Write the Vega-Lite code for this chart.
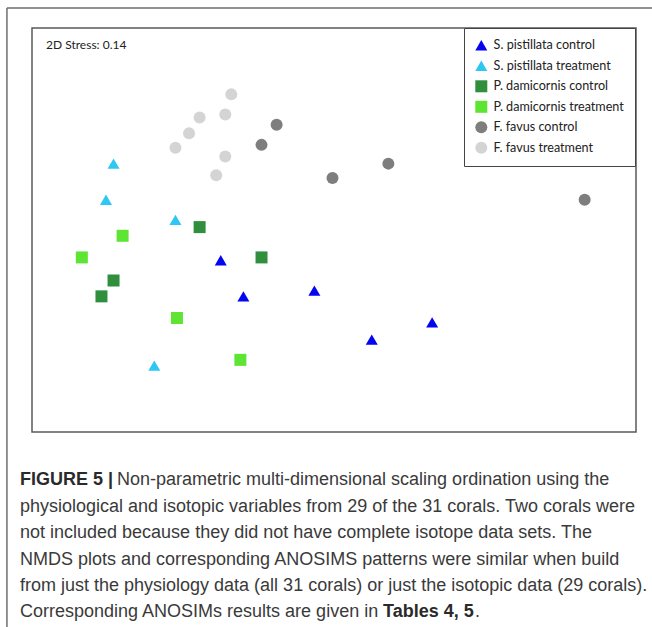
{
  "$schema": "https://vega.github.io/schema/vega-lite/v6.json",
  "width": 604,
  "height": 404,
  "autosize": {"type": "none"},
  "padding": {"left": 32, "top": 28, "right": 16, "bottom": 195},
  "background": "white",
  "config": {"view": {"stroke": "#5a5a5a", "strokeWidth": 1.5}, "font": "Lato"},
  "datasets": {
    "points": [
      {"group": "S. pistillata control", "x": -0.75, "y": -0.21},
      {"group": "S. pistillata control", "x": -0.60, "y": -0.46},
      {"group": "S. pistillata control", "x": -0.13, "y": -0.42},
      {"group": "S. pistillata control", "x": 0.65, "y": -0.64},
      {"group": "S. pistillata control", "x": 0.25, "y": -0.76},
      {"group": "S. pistillata treatment", "x": -1.46, "y": 0.46},
      {"group": "S. pistillata treatment", "x": -1.51, "y": 0.21},
      {"group": "S. pistillata treatment", "x": -1.05, "y": 0.07},
      {"group": "S. pistillata treatment", "x": -1.19, "y": -0.94},
      {"group": "P. damicornis control", "x": -0.89, "y": 0.02},
      {"group": "P. damicornis control", "x": -0.48, "y": -0.19},
      {"group": "P. damicornis control", "x": -1.46, "y": -0.35},
      {"group": "P. damicornis control", "x": -1.54, "y": -0.46},
      {"group": "P. damicornis treatment", "x": -1.40, "y": -0.04},
      {"group": "P. damicornis treatment", "x": -1.67, "y": -0.19},
      {"group": "P. damicornis treatment", "x": -1.04, "y": -0.61},
      {"group": "P. damicornis treatment", "x": -0.62, "y": -0.90},
      {"group": "F. favus control", "x": -0.38, "y": 0.73},
      {"group": "F. favus control", "x": -0.48, "y": 0.59},
      {"group": "F. favus control", "x": 0.36, "y": 0.46},
      {"group": "F. favus control", "x": -0.01, "y": 0.36},
      {"group": "F. favus control", "x": 1.66, "y": 0.21},
      {"group": "F. favus treatment", "x": -0.68, "y": 0.94},
      {"group": "F. favus treatment", "x": -0.89, "y": 0.78},
      {"group": "F. favus treatment", "x": -0.72, "y": 0.80},
      {"group": "F. favus treatment", "x": -0.96, "y": 0.67},
      {"group": "F. favus treatment", "x": -1.05, "y": 0.57},
      {"group": "F. favus treatment", "x": -0.72, "y": 0.51},
      {"group": "F. favus treatment", "x": -0.78, "y": 0.38}
    ],
    "stress": [{"label": "2D Stress: 0.14"}],
    "capBold1": [{"t": "FIGURE 5 |"}],
    "capLine1": [{"t": "Non-parametric multi-dimensional scaling ordination using the"}],
    "capRest": [{"t": "physiological and isotopic variables from 29 of the 31 corals. Two corals were\nnot included because they did not have complete isotope data sets. The\nNMDS plots and corresponding ANOSIMS patterns were similar when build\nfrom just the physiology data (all 31 corals) or just the isotopic data (29 corals).\nCorresponding ANOSIMs results are given in"}],
    "capBold2": [{"t": "Tables 4, 5"}],
    "capDot": [{"t": "."}]
  },
  "layer": [
    {
      "data": {"values": [{}]},
      "mark": {"type": "rule", "color": "#6e6e6e", "strokeWidth": 1.5},
      "encoding": {
        "x": {"datum": -2.166, "type": "quantitative", "scale": {"domain": [-2, 2], "nice": false, "zero": false}, "axis": null},
        "y": {"datum": 1.538, "type": "quantitative", "scale": {"domain": [-1.4, 1.4], "nice": false, "zero": false}, "axis": null},
        "y2": {"datum": -2.9}
      }
    },
    {
      "data": {"values": [{}]},
      "mark": {"type": "rule", "color": "#6e6e6e", "strokeWidth": 1.5},
      "encoding": {
        "x": {"datum": -2.166, "type": "quantitative", "scale": {"domain": [-2, 2], "nice": false, "zero": false}, "axis": null},
        "x2": {"datum": 2.3},
        "y": {"datum": 1.538, "type": "quantitative", "scale": {"domain": [-1.4, 1.4], "nice": false, "zero": false}, "axis": null}
      }
    },
    {
      "data": {"name": "points"},
      "mark": {"type": "point", "filled": true, "opacity": 1, "size": 144},
      "encoding": {
        "x": {"field": "x", "type": "quantitative", "scale": {"domain": [-2, 2], "nice": false, "zero": false}, "axis": null},
        "y": {"field": "y", "type": "quantitative", "scale": {"domain": [-1.4, 1.4], "nice": false, "zero": false}, "axis": null},
        "color": {
          "field": "group", "type": "nominal",
          "scale": {
            "domain": ["S. pistillata control", "S. pistillata treatment", "P. damicornis control", "P. damicornis treatment", "F. favus control", "F. favus treatment"],
            "range": ["#0505F0", "#2EC6F2", "#2F8F3C", "#5EE432", "#7E7E7E", "#D4D4D4"]
          },
          "legend": {
            "title": null, "orient": "none", "legendX": 432, "legendY": 0,
            "strokeColor": "#444", "fillColor": "white", "padding": 11,
            "labelFont": "Lato", "labelFontSize": 12.6, "labelColor": "#222", "labelOffset": 6,
            "symbolSize": 144, "rowPadding": 7.5, "symbolStrokeWidth": 0, "labelLimit": 300
          }
        },
        "shape": {
          "field": "group", "type": "nominal",
          "scale": {
            "domain": ["S. pistillata control", "S. pistillata treatment", "P. damicornis control", "P. damicornis treatment", "F. favus control", "F. favus treatment"],
            "range": ["triangle-up", "triangle-up", "square", "square", "circle", "circle"]
          }
        }
      }
    },
    {
      "data": {"name": "stress"},
      "mark": {"type": "text", "align": "left", "baseline": "middle", "font": "Lato", "fontSize": 12, "color": "#222"},
      "encoding": {
        "x": {"datum": -1.907, "type": "quantitative", "scale": {"domain": [-2, 2], "nice": false, "zero": false}, "axis": null},
        "y": {"datum": 1.282, "type": "quantitative", "scale": {"domain": [-1.4, 1.4], "nice": false, "zero": false}, "axis": null},
        "text": {"field": "label"}
      }
    },
    {
      "data": {"name": "capBold1"},
      "mark": {"type": "text", "align": "left", "baseline": "top", "font": "Liberation Sans", "fontSize": 18, "fontWeight": "bold", "color": "#2a2a2a"},
      "encoding": {
        "x": {"datum": -2.0795, "type": "quantitative", "scale": {"domain": [-2, 2], "nice": false, "zero": false}, "axis": null},
        "y": {"datum": -1.6703, "type": "quantitative", "scale": {"domain": [-1.4, 1.4], "nice": false, "zero": false}, "axis": null},
        "text": {"field": "t"}
      }
    },
    {
      "data": {"name": "capLine1"},
      "mark": {"type": "text", "align": "left", "baseline": "top", "font": "Liberation Sans", "fontSize": 18, "color": "#3a3a3a", "dx": 97},
      "encoding": {
        "x": {"datum": -2.0795, "type": "quantitative", "scale": {"domain": [-2, 2], "nice": false, "zero": false}, "axis": null},
        "y": {"datum": -1.6703, "type": "quantitative", "scale": {"domain": [-1.4, 1.4], "nice": false, "zero": false}, "axis": null},
        "text": {"field": "t"}
      }
    },
    {
      "data": {"name": "capRest"},
      "mark": {"type": "text", "align": "left", "baseline": "top", "font": "Liberation Sans", "fontSize": 18, "color": "#3a3a3a", "lineBreak": "\n", "lineHeight": 26.3},
      "encoding": {
        "x": {"datum": -2.0795, "type": "quantitative", "scale": {"domain": [-2, 2], "nice": false, "zero": false}, "axis": null},
        "y": {"datum": -1.8574, "type": "quantitative", "scale": {"domain": [-1.4, 1.4], "nice": false, "zero": false}, "axis": null},
        "text": {"field": "t"}
      }
    },
    {
      "data": {"name": "capBold2"},
      "mark": {"type": "text", "align": "left", "baseline": "top", "font": "Liberation Sans", "fontSize": 18, "fontWeight": "bold", "color": "#2a2a2a", "dx": 363},
      "encoding": {
        "x": {"datum": -2.0795, "type": "quantitative", "scale": {"domain": [-2, 2], "nice": false, "zero": false}, "axis": null},
        "y": {"datum": -2.5865, "type": "quantitative", "scale": {"domain": [-1.4, 1.4], "nice": false, "zero": false}, "axis": null},
        "text": {"field": "t"}
      }
    },
    {
      "data": {"name": "capDot"},
      "mark": {"type": "text", "align": "left", "baseline": "top", "font": "Liberation Sans", "fontSize": 18, "color": "#3a3a3a", "dx": 455},
      "encoding": {
        "x": {"datum": -2.0795, "type": "quantitative", "scale": {"domain": [-2, 2], "nice": false, "zero": false}, "axis": null},
        "y": {"datum": -2.5865, "type": "quantitative", "scale": {"domain": [-1.4, 1.4], "nice": false, "zero": false}, "axis": null},
        "text": {"field": "t"}
      }
    }
  ]
}
